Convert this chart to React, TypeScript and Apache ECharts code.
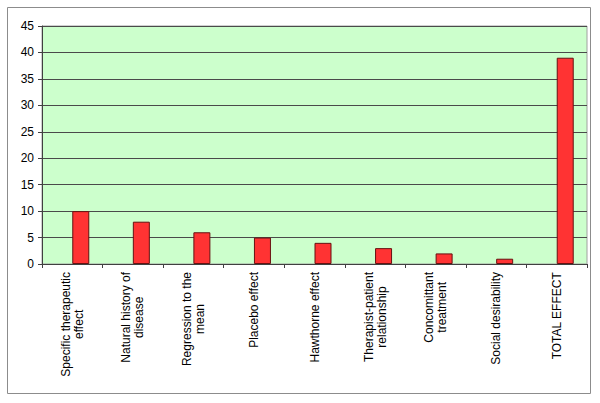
import React, { useEffect, useRef } from "react";
import * as echarts from "echarts";

const categories: string[] = [
  "Specific therapeutic\neffect",
  "Natural history of\ndisease",
  "Regression to the\nmean",
  "Placebo effect",
  "Hawthorne effect",
  "Therapist-patient\nrelationship",
  "Concomittant\ntreatment",
  "Social desirability",
  "TOTAL EFFECT",
];
const values: number[] = [10, 8, 6, 5, 4, 3, 2, 1, 39];
// empty companion series (Excel layout leaves an empty slot left of each bar)
const blankValues: (number | null)[] = [null, null, null, null, null, null, null, null, null];
const yMin = 0;
const yMax = 45;
const yInterval = 5;

const FONT = "Liberation Sans, Arial, sans-serif";

export default function App() {
  const ref = useRef<HTMLDivElement>(null);
  useEffect(() => {
    if (!ref.current) return;
    const chart = echarts.init(ref.current, undefined, { renderer: "svg" });
    chart.setOption({
      animation: false,
      backgroundColor: "#ffffff",
      textStyle: { fontFamily: FONT },
      graphic: [
        {
          type: "rect",
          shape: { x: 7.5, y: 7.5, width: 583, height: 386 },
          style: { fill: "none", stroke: "#8c8c8c", lineWidth: 1 },
          silent: true,
        },
      ],
      grid: {
        left: 42,
        right: 13,
        top: 26,
        bottom: 139,
        show: true,
        backgroundColor: "#CCFFCC",
        borderColor: "#a0a0a0",
        borderWidth: 1,
      },
      xAxis: {
        type: "category",
        data: categories,
        boundaryGap: true,
        axisLine: { show: true, lineStyle: { color: "#404040", width: 1 } },
        axisTick: { show: true, length: 4, lineStyle: { color: "#404040" } },
        axisLabel: {
          rotate: 90,
          margin: 8,
          interval: 0,
          color: "#000",
          fontSize: 12,
          lineHeight: 13,
          fontFamily: FONT,
          formatter: (v: string) =>
            v
              .split("\n")
              .map((s) => `{c|${s}}`)
              .join("\n"),
          rich: {
            c: {
              align: "center",
              fontSize: 12,
              lineHeight: 13,
              color: "#000",
              fontFamily: FONT,
            },
          },
        },
      },
      yAxis: {
        type: "value",
        min: yMin,
        max: yMax,
        interval: yInterval,
        axisLine: { show: true, lineStyle: { color: "#404040", width: 1 } },
        axisTick: { show: true, length: 4, lineStyle: { color: "#404040" } },
        axisLabel: {
          color: "#000",
          fontSize: 12,
          margin: 8,
          fontFamily: FONT,
        },
        splitLine: { show: true, lineStyle: { color: "#4a4a4a", width: 1 } },
      },
      series: [
        {
          type: "bar",
          data: blankValues,
          barWidth: 17,
          barGap: "0%",
          itemStyle: { color: "transparent" },
          silent: true,
        },
        {
          type: "bar",
          data: values,
          barWidth: 17,
          barGap: "0%",
          itemStyle: {
            color: "#FF3333",
            borderColor: "#661111",
            borderWidth: 1,
          },
        },
      ],
    });
    return () => chart.dispose();
  }, []);
  return (
    <div
      ref={ref}
      style={{ position: "fixed", left: 0, top: 0, width: 600, height: 403 }}
    />
  );
}
